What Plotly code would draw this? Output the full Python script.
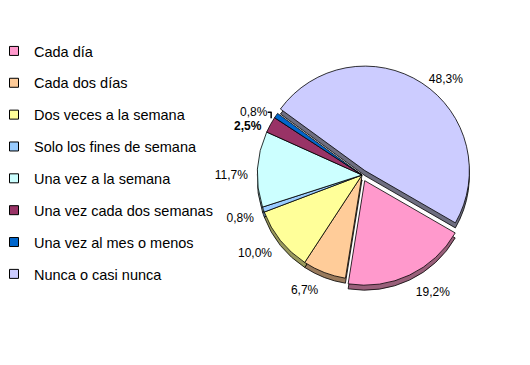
import plotly.graph_objects as go

categories = ["Cada día", "Cada dos días", "Dos veces a la semana",
              "Solo los fines de semana", "Una vez a la semana",
              "Una vez cada dos semanas", "Una vez al mes o menos",
              "Nunca o casi nunca"]
values = [19.2, 6.7, 10.0, 0.8, 11.7, 2.5, 0.8, 48.3]
colors = ["#FF99CC", "#FFCC99", "#FFFF99", "#99CCFF", "#CCFFFF",
          "#993366", "#0066CC", "#CCCCFF"]
shadow_colors = ["#99607A", "#997A5C", "#99995C", "#5C7A99", "#7A9999",
                 "#5C1F3D", "#003D7A", "#6E6E80"]
pulls = [0.06, 0, 0, 0, 0, 0, 0, 0.05]
bold = [False, False, False, False, False, True, False, False]

FONT = "Liberation Sans, Arial, sans-serif"

cx, cy, half = 354 / 530, 1 - 167 / 365, 110.8
dx, dy = half / 530, half / 365
shift = 5 / 365

# slightly larger, lower invisible ring that only carries the value labels
t_cy, t_half = 1 - 173 / 365, 117.1
t_dx, t_dy = t_half / 530, t_half / 365

templates = ["<b>%{value:.1f}%</b>" if b else "%{value:.1f}%" for b in bold]

fig = go.Figure()

# depth / shadow layer
fig.add_trace(go.Pie(
    labels=categories, values=values, sort=False, direction="clockwise",
    rotation=120, pull=pulls, showlegend=False, textinfo="none",
    hoverinfo="skip",
    marker=dict(colors=shadow_colors, line=dict(color="#000000", width=0.8)),
    domain=dict(x=[cx - dx, cx + dx], y=[cy - dy - shift, cy + dy - shift]),
))

fig.add_trace(go.Pie(
    labels=categories, values=values, sort=False, direction="clockwise",
    rotation=120, pull=pulls, showlegend=False, textinfo="none",
    marker=dict(colors=colors, line=dict(color="#000000", width=0.8)),
    domain=dict(x=[cx - dx, cx + dx], y=[cy - dy, cy + dy]),
))

fig.add_trace(go.Pie(
    labels=categories, values=values, sort=False, direction="clockwise",
    rotation=120, pull=pulls, showlegend=False, hoverinfo="skip",
    texttemplate=templates, textposition="outside",
    textfont=dict(family=FONT, size=12, color="#000000"),
    marker=dict(colors=["rgba(0,0,0,0)"] * len(values),
                line=dict(color="rgba(0,0,0,0)", width=0)),
    domain=dict(x=[cx - t_dx, cx + t_dx], y=[t_cy - t_dy, t_cy + t_dy]),
))

# legend entries
for i, (name, col) in enumerate(zip(categories, colors)):
    fig.add_trace(go.Scatter(
        x=[None], y=[None], mode="markers", name=name,
        legendgroup=f"g{i}",
        marker=dict(symbol="square", size=9, color=col,
                    line=dict(color="#000000", width=1)),
    ))

fig.update_layout(
    width=530, height=365,
    margin=dict(l=0, r=0, t=0, b=0, autoexpand=False),
    paper_bgcolor="white", plot_bgcolor="white",
    separators=",.",
    font=dict(family=FONT, size=12, color="#000000"),
    xaxis=dict(visible=False), yaxis=dict(visible=False),
    legend=dict(x=-14 / 530, y=1 - 27 / 365, xanchor="left", yanchor="top",
                font=dict(family=FONT, size=14.5, color="#000000"),
                tracegroupgap=10, bgcolor="rgba(0,0,0,0)"),
)

fig.write_html("out.html")
